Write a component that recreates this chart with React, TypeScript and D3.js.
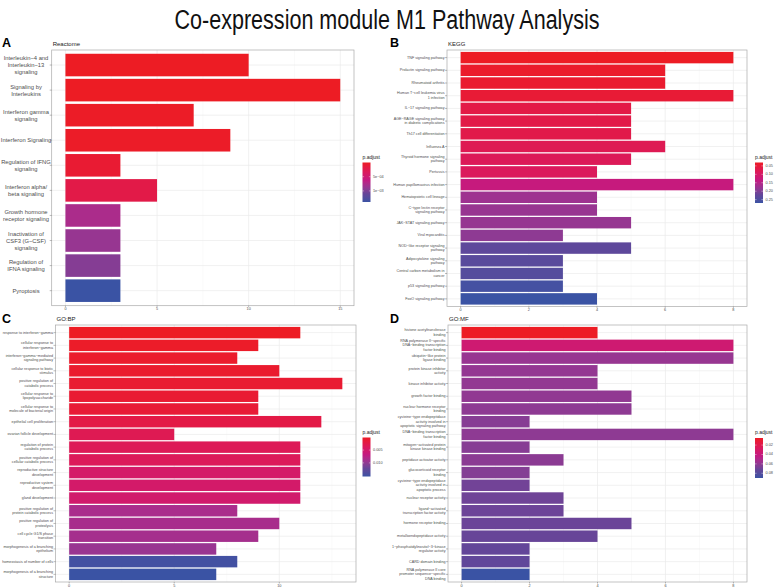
import React from "react";
import * as d3 from "d3";

// ---------- Reactome (A) ----------
const reactomeTerms = [
  "Interleukin−4 and\nInterleukin−13\nsignaling",
  "Signaling by\nInterleukins",
  "Interferon gamma\nsignaling",
  "Interferon Signaling",
  "Regulation of IFNG\nsignaling",
  "Interferon alpha/\nbeta signaling",
  "Growth hormone\nreceptor signaling",
  "Inactivation of\nCSF3 (G−CSF)\nsignaling",
  "Regulation of\nIFNA signaling",
  "Pyroptosis",
];
const reactomeCounts = [10, 15, 7, 9, 3, 5, 3, 3, 3, 3];
const reactomePadj = [0.000002, 0.00000001, 0.000015, 0.00002, 0.00008, 0.00021, 0.00076, 0.00087, 0.00096, 0.00139];
const reactomeXTicks = [0, 5, 10, 15];
const reactomeLegendTicks = [0.0005, 0.001];
const reactomeLegendLabels = ["5e−04", "1e−03"];

// ---------- KEGG (B) ----------
const keggTerms = [
  "TNF signaling pathway",
  "Prolactin signaling pathway",
  "Rheumatoid arthritis",
  "Human T−cell leukemia virus\n1 infection",
  "IL−17 signaling pathway",
  "AGE−RAGE signaling pathway\nin diabetic complications",
  "Th17 cell differentiation",
  "Influenza A",
  "Thyroid hormone signaling\npathway",
  "Pertussis",
  "Human papillomavirus infection",
  "Hematopoietic cell lineage",
  "C−type lectin receptor\nsignaling pathway",
  "JAK−STAT signaling pathway",
  "Viral myocarditis",
  "NOD−like receptor signaling\npathway",
  "Adipocytokine signaling\npathway",
  "Central carbon metabolism in\ncancer",
  "p53 signaling pathway",
  "FoxO signaling pathway",
];
const keggCounts = [8, 6, 6, 8, 5, 5, 5, 6, 5, 4, 8, 4, 4, 5, 3, 5, 3, 3, 3, 4];
const keggPadj = [0.03, 0.037, 0.04, 0.047, 0.064, 0.066, 0.068, 0.078, 0.083, 0.088, 0.131, 0.174, 0.179, 0.181, 0.188, 0.229, 0.236, 0.241, 0.26, 0.27];
const keggXTicks = [0, 2, 4, 6, 8];
const keggLegendTicks = [0.05, 0.1, 0.15, 0.2, 0.25];
const keggLegendLabels = ["0.05", "0.10", "0.15", "0.20", "0.25"];

// ---------- GO:BP (C) ----------
const bpTerms = [
  "response to interferon−gamma",
  "cellular response to\ninterferon−gamma",
  "interferon−gamma−mediated\nsignaling pathway",
  "cellular response to biotic\nstimulus",
  "positive regulation of\ncatabolic process",
  "cellular response to\nlipopolysaccharide",
  "cellular response to\nmolecule of bacterial origin",
  "epithelial cell proliferation",
  "ovarian follicle development",
  "regulation of protein\ncatabolic process",
  "positive regulation of\ncellular catabolic process",
  "reproductive structure\ndevelopment",
  "reproductive system\ndevelopment",
  "gland development",
  "positive regulation of\nprotein catabolic process",
  "positive regulation of\nproteolysis",
  "cell cycle G1/S phase\ntransition",
  "morphogenesis of a branching\nepithelium",
  "homeostasis of number of cells",
  "morphogenesis of a branching\nstructure",
];
const bpCounts = [11, 9, 8, 10, 13, 9, 9, 12, 5, 11, 11, 11, 11, 11, 8, 10, 9, 7, 8, 7];
const bpPadj = [0.0001, 0.0004, 0.0006, 0.0007, 0.0009, 0.001, 0.0012, 0.0022, 0.0031, 0.0034, 0.0036, 0.0047, 0.0048, 0.0051, 0.0085, 0.0086, 0.0088, 0.0095, 0.0148, 0.0153];
const bpXTicks = [0, 5, 10];
const bpLegendTicks = [0.005, 0.01];
const bpLegendLabels = ["0.005", "0.010"];

// ---------- GO:MF (D) ----------
const mfTerms = [
  "histone acetyltransferase\nbinding",
  "RNA polymerase II−specific\nDNA−binding transcription\nfactor binding",
  "ubiquitin−like protein\nligase binding",
  "protein kinase inhibitor\nactivity",
  "kinase inhibitor activity",
  "growth factor binding",
  "nuclear hormone receptor\nbinding",
  "cysteine−type endopeptidase\nactivity involved in\napoptotic signaling pathway",
  "DNA−binding transcription\nfactor binding",
  "mitogen−activated protein\nkinase kinase binding",
  "peptidase activator activity",
  "glucocorticoid receptor\nbinding",
  "cysteine−type endopeptidase\nactivity involved in\napoptotic process",
  "nuclear receptor activity",
  "ligand−activated\ntranscription factor activity",
  "hormone receptor binding",
  "metalloendopeptidase activity",
  "1−phosphatidylinositol−3−kinase\nregulator activity",
  "CARD domain binding",
  "RNA polymerase II core\npromoter sequence−specific\nDNA binding",
];
const mfCounts = [4, 8, 8, 4, 4, 5, 5, 2, 8, 2, 3, 2, 2, 3, 3, 5, 4, 2, 2, 2];
const mfPadj = [0.005, 0.035, 0.058, 0.059, 0.0595, 0.06, 0.061, 0.063, 0.061, 0.063, 0.062, 0.064, 0.069, 0.07, 0.0705, 0.071, 0.072, 0.073, 0.074, 0.09];
const mfXTicks = [0, 2, 4, 6, 8];
const mfLegendTicks = [0.02, 0.04, 0.06, 0.08];
const mfLegendLabels = ["0.02", "0.04", "0.06", "0.08"];

// ---------- colours ----------
const colorStopPos = [0, 0.25, 0.45, 0.6, 0.8, 1];
const colorStopCols = ["#ED1C24", "#DA1A5E", "#C21A82", "#9E3290", "#634699", "#3A53A4"];
const colorT = d3
  .scaleLinear<string>()
  .domain(colorStopPos)
  .range(colorStopCols)
  .interpolate(d3.interpolateLab)
  .clamp(true);

const FONT = "'Liberation Sans', Arial, Helvetica, sans-serif";

type PanelProps = {
  id: string;
  letter: string;
  letterX: number;
  letterY: number;
  subtitle: string;
  terms: string[];
  counts: number[];
  padj: number[];
  xMax: number;
  xTicks: number[];
  legendTicks: number[];
  legendLabels: string[];
  x0: number;
  x1: number;
  y0: number;
  y1: number;
  labelAnchor: "middle" | "end";
  labelX: number;
  labelSize: number;
  labelLH: number;
  legX: number;
  legY0: number;
  legY1: number;
};

function Panel(p: PanelProps) {
  const x = d3
    .scaleLinear()
    .domain([-0.05 * p.xMax, 1.05 * p.xMax])
    .range([p.x0, p.x1]);
  const y = d3
    .scaleBand<string>()
    .domain(p.terms)
    .range([p.y0, p.y1])
    .paddingInner(0.1)
    .paddingOuter(0.15);
  const ext = d3.extent(p.padj) as [number, number];
  const pt = d3.scaleLinear().domain(ext).range([0, 1]);
  const legScale = d3.scaleLinear().domain(ext).range([p.legY0, p.legY1]);
  const step = p.xTicks[1] - p.xTicks[0];
  const minor = p.xTicks
    .map((t) => t + step / 2)
    .filter((t) => t < 1.05 * p.xMax);
  const gradStops = d3.range(0, 1.0001, 0.05);
  const cbW = 8;

  return (
    <g>
      <defs>
        <linearGradient id={`grad-${p.id}`} x1="0" y1="0" x2="0" y2="1">
          {gradStops.map((s) => (
            <stop key={s} offset={s} stopColor={colorT(s)} />
          ))}
        </linearGradient>
      </defs>
      <text x={p.letterX} y={p.letterY} fontSize={12.5} fontWeight="bold" fontFamily={FONT}>
        {p.letter}
      </text>
      <text x={p.x0 + 1} y={p.y0 - 4} fontSize={6} fontFamily={FONT} fill="#222">
        {p.subtitle}
      </text>
      <rect x={p.x0} y={p.y0} width={p.x1 - p.x0} height={p.y1 - p.y0} fill="#fff" />
      {minor.map((t) => (
        <line key={`mn${t}`} x1={x(t)} x2={x(t)} y1={p.y0} y2={p.y1} stroke="#F2F2F2" strokeWidth={0.4} />
      ))}
      {p.xTicks.map((t) => (
        <line key={`mj${t}`} x1={x(t)} x2={x(t)} y1={p.y0} y2={p.y1} stroke="#EBEBEB" strokeWidth={0.7} />
      ))}
      {p.terms.map((t) => {
        const cy = (y(t) as number) + y.bandwidth() / 2;
        return <line key={`hg${t}`} x1={p.x0} x2={p.x1} y1={cy} y2={cy} stroke="#EBEBEB" strokeWidth={0.7} />;
      })}
      {p.terms.map((t, i) => (
        <rect
          key={`bar${t}`}
          x={x(0)}
          y={y(t) as number}
          width={x(p.counts[i]) - x(0)}
          height={y.bandwidth()}
          fill={colorT(pt(p.padj[i]))}
        />
      ))}
      <rect
        x={p.x0}
        y={p.y0}
        width={p.x1 - p.x0}
        height={p.y1 - p.y0}
        fill="none"
        stroke="#AAAAAA"
        strokeWidth={0.7}
      />
      {p.terms.map((t) => {
        const cy = (y(t) as number) + y.bandwidth() / 2;
        const lines = t.split("\n");
        const first = cy - ((lines.length - 1) * p.labelLH) / 2;
        return (
          <g key={`lab${t}`}>
            <line x1={p.x0 - 2} x2={p.x0} y1={cy} y2={cy} stroke="#555" strokeWidth={0.4} />
            <text
              x={p.labelX}
              textAnchor={p.labelAnchor}
              fontSize={p.labelSize}
              fontFamily={FONT}
              fill="#4D4D4D"
              dominantBaseline="central"
            >
              {lines.map((ln, k) => (
                <tspan key={k} x={p.labelX} y={first + k * p.labelLH}>
                  {ln}
                </tspan>
              ))}
            </text>
          </g>
        );
      })}
      {p.xTicks.map((t) => (
        <g key={`xt${t}`}>
          <line x1={x(t)} x2={x(t)} y1={p.y1} y2={p.y1 + 1.5} stroke="#555" strokeWidth={0.4} />
          <text
            x={x(t)}
            y={p.y1 + 3.6}
            textAnchor="middle"
            dominantBaseline="central"
            fontSize={3.8}
            fontFamily={FONT}
            fill="#4D4D4D"
          >
            {t}
          </text>
        </g>
      ))}
      {/* legend */}
      <text x={p.legX} y={p.legY0 - 4} fontSize={5} fontFamily={FONT} fill="#222">
        p.adjust
      </text>
      <rect x={p.legX} y={p.legY0} width={cbW} height={p.legY1 - p.legY0} fill={`url(#grad-${p.id})`} />
      {p.legendTicks.map((v, i) => {
        const ly = legScale(v);
        return (
          <g key={`lg${v}`}>
            <line x1={p.legX} x2={p.legX + 1.6} y1={ly} y2={ly} stroke="#fff" strokeWidth={0.4} />
            <line x1={p.legX + cbW - 1.6} x2={p.legX + cbW} y1={ly} y2={ly} stroke="#fff" strokeWidth={0.4} />
            <text
              x={p.legX + cbW + 2.5}
              y={ly}
              dominantBaseline="central"
              fontSize={3.8}
              fontFamily={FONT}
              fill="#4D4D4D"
            >
              {p.legendLabels[i]}
            </text>
          </g>
        );
      })}
    </g>
  );
}

export default function App() {
  return (
    <svg
      width={774}
      height={587}
      viewBox="0 0 774 587"
      style={{ position: "absolute", left: 0, top: 0, background: "#fff" }}
    >
      <rect x={0} y={0} width={774} height={587} fill="#fff" />
      <text
        x={387}
        y={29}
        textAnchor="middle"
        fontSize={27}
        fontFamily={FONT}
        fill="#111"
        textLength={425}
        lengthAdjust="spacingAndGlyphs"
      >
        Co-expression module M1 Pathway Analysis
      </text>
      <Panel
        id="A"
        letter="A"
        letterX={2}
        letterY={47}
        subtitle="Reactome"
        terms={reactomeTerms}
        counts={reactomeCounts}
        padj={reactomePadj}
        xMax={15}
        xTicks={reactomeXTicks}
        legendTicks={reactomeLegendTicks}
        legendLabels={reactomeLegendLabels}
        x0={51.7}
        x1={354}
        y0={50}
        y1={305.7}
        labelAnchor="middle"
        labelX={26}
        labelSize={5.8}
        labelLH={7}
        legX={362.5}
        legY0={162.5}
        legY1={202}
      />
      <Panel
        id="B"
        letter="B"
        letterX={390}
        letterY={47}
        subtitle="KEGG"
        terms={keggTerms}
        counts={keggCounts}
        padj={keggPadj}
        xMax={8}
        xTicks={keggXTicks}
        legendTicks={keggLegendTicks}
        legendLabels={keggLegendLabels}
        x0={447}
        x1={747}
        y0={50}
        y1={306.5}
        labelAnchor="end"
        labelX={444.5}
        labelSize={3.7}
        labelLH={4.5}
        legX={755}
        legY0={162.5}
        legY1={203}
      />
      <Panel
        id="C"
        letter="C"
        letterX={2}
        letterY={323}
        subtitle="GO:BP"
        terms={bpTerms}
        counts={bpCounts}
        padj={bpPadj}
        xMax={13}
        xTicks={bpXTicks}
        legendTicks={bpLegendTicks}
        legendLabels={bpLegendLabels}
        x0={55.5}
        x1={356}
        y0={325}
        y1={582}
        labelAnchor="end"
        labelX={53}
        labelSize={3.7}
        labelLH={4.5}
        legX={362.5}
        legY0={437.5}
        legY1={476.5}
      />
      <Panel
        id="D"
        letter="D"
        letterX={390}
        letterY={323}
        subtitle="GO:MF"
        terms={mfTerms}
        counts={mfCounts}
        padj={mfPadj}
        xMax={8}
        xTicks={mfXTicks}
        legendTicks={mfLegendTicks}
        legendLabels={mfLegendLabels}
        x0={448}
        x1={747}
        y0={325}
        y1={582}
        labelAnchor="end"
        labelX={445.5}
        labelSize={3.7}
        labelLH={4.5}
        legX={755}
        legY0={438}
        legY1={478}
      />
    </svg>
  );
}
